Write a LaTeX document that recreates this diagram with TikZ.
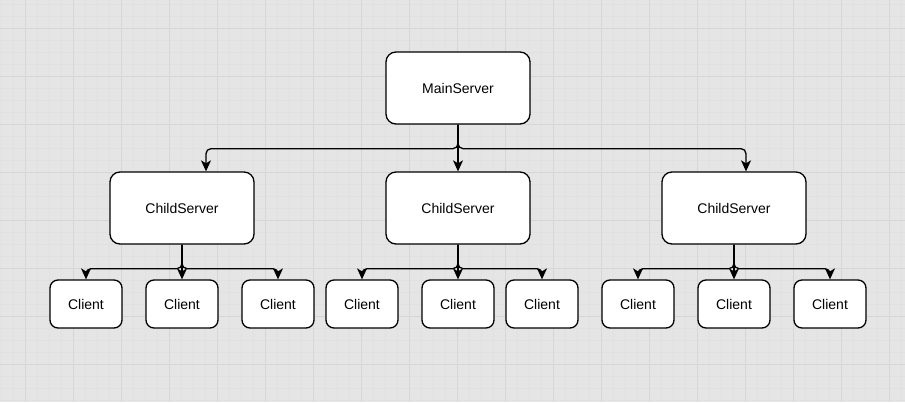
\documentclass[tikz,border=0pt]{standalone}
\usepackage{fontspec}
\setmainfont{Liberation Sans}
\usetikzlibrary{arrows.meta}
\definecolor{bgc}{RGB}{229,229,229}
\definecolor{minorc}{RGB}{225,225,225}
\definecolor{majorc}{RGB}{214,214,214}
\tikzset{
  srv/.style={draw=black, fill=white, line width=1.3pt, rounded corners=10pt,
    minimum width=144pt, minimum height=72pt, inner sep=0pt,
    font=\fontsize{14}{16}\selectfont},
  cli/.style={draw=black, fill=white, line width=1.3pt, rounded corners=8pt,
    minimum width=72pt, minimum height=48pt, inner sep=0pt,
    font=\fontsize{14}{16}\selectfont},
  conn/.style={draw=black, line width=1.3pt, rounded corners=5pt,
    -{Stealth[length=11pt,width=10pt,inset=3pt]}}
}
\begin{document}
\begin{tikzpicture}[x=1pt,y=-1pt]
\fill[bgc] (0,0) rectangle (905,402);
\useasboundingbox (0,0) rectangle (905,402);
% minor grid
\foreach \gx in {1,13,...,901} \draw[minorc, line width=0.7pt] (\gx,0) -- (\gx,402);
\foreach \gy in {4,16,...,400} \draw[minorc, line width=0.7pt] (0,\gy) -- (905,\gy);
% major grid
\foreach \gx in {25,73,...,889} \draw[majorc, line width=1pt] (\gx,0) -- (\gx,402);
\foreach \gy in {28,76,...,400} \draw[majorc, line width=1pt] (0,\gy) -- (905,\gy);

\node[srv] (main) at (458,88) {MainServer};
\node[srv] (cs1) at (182,208) {ChildServer};
\node[srv] (cs2) at (458,208) {ChildServer};
\node[srv] (cs3) at (734,208) {ChildServer};

\node[cli] (cl11) at (86,304) {Client};
\node[cli] (cl12) at (182,304) {Client};
\node[cli] (cl13) at (278,304) {Client};
\node[cli] (cl21) at (362,304) {Client};
\node[cli] (cl22) at (458,304) {Client};
\node[cli] (cl23) at (542,304) {Client};
\node[cli] (cl31) at (638,304) {Client};
\node[cli] (cl32) at (734,304) {Client};
\node[cli] (cl33) at (830,304) {Client};

% main -> child servers
\draw[conn] (main.south) -- ++(0,24) -| ([xshift=24pt]cs1.north);
\draw[conn] (main.south) -- (cs2.north);
\draw[conn] (main.south) -- ++(0,24) -| ([xshift=12pt]cs3.north);

% child servers -> clients
\foreach \c/\a/\b/\d in {cs1/cl11/cl12/cl13, cs2/cl21/cl22/cl23, cs3/cl31/cl32/cl33}{
  \draw[conn] (\c.south) -- ++(0,24) -| (\a.north);
  \draw[conn] (\c.south) -- (\b.north);
  \draw[conn] (\c.south) -- ++(0,24) -| (\d.north);
}
\end{tikzpicture}
\end{document}
